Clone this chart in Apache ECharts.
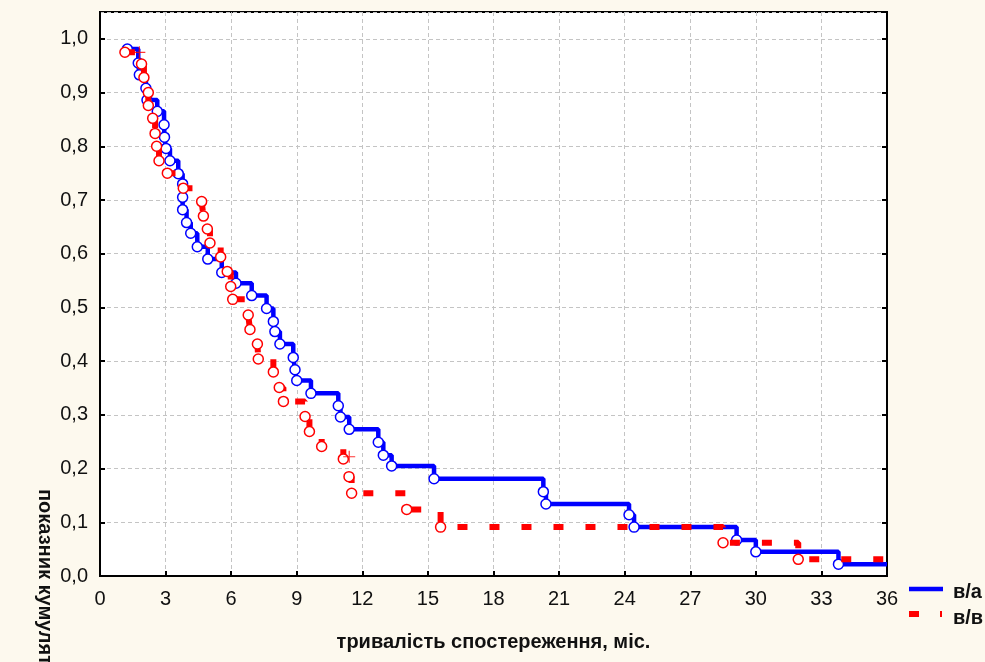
<!DOCTYPE html>
<html>
<head>
<meta charset="utf-8">
<script src="https://cdn.jsdelivr.net/npm/echarts@6/dist/echarts.min.js"></script>
<style>
html,body{margin:0;padding:0;background:#fdf9ee;}
#chart{width:985px;height:662px;}
</style>
</head>
<body>
<div id="chart"></div>
<script>
// Observation times (months) and cumulative proportion for group "в/а"
var blueTimes = [1.25,1.75,1.80,2.10,2.15,2.62,2.93,2.95,3.02,3.20,3.58,3.78,3.78,3.78,3.96,4.15,4.45,4.93,5.57,6.22,6.94,7.62,7.93,8.00,8.23,8.84,8.92,9.00,9.65,10.90,11.00,11.40,12.73,12.96,13.34,15.28,20.28,20.40,24.20,24.43,29.12,30.00,33.78,36];
var blueSurv  = [0.981,0.955,0.933,0.908,0.886,0.865,0.840,0.817,0.796,0.773,0.749,0.730,0.705,0.682,0.658,0.638,0.613,0.590,0.565,0.545,0.522,0.498,0.474,0.455,0.432,0.407,0.384,0.364,0.340,0.317,0.296,0.273,0.249,0.225,0.205,0.181,0.157,0.134,0.114,0.091,0.067,0.045,0.022,0.022];
// Group "в/в"
var redTimes = [1.14,1.90,2.01,2.21,2.21,2.41,2.52,2.59,2.70,3.08,3.81,4.65,4.73,4.91,5.03,5.52,5.82,5.98,6.07,6.78,6.86,7.20,7.24,7.93,8.20,8.39,9.38,9.58,10.14,11.13,11.39,11.51,14.03,15.58,28.50,31.94,36];
var redSurv  = [0.975,0.953,0.928,0.900,0.876,0.852,0.824,0.800,0.773,0.750,0.722,0.697,0.670,0.646,0.620,0.594,0.567,0.539,0.515,0.486,0.459,0.432,0.404,0.380,0.351,0.325,0.297,0.269,0.241,0.218,0.185,0.154,0.124,0.091,0.062,0.031,0.031];
// Censored observations ("+") for group "в/в"
var redCensTimes = [1.80,11.40];
var redCensSurv  = [0.975,0.222];

var xTicks = [0,3,6,9,12,15,18,21,24,27,30,33,36];
var yTicks = [0.0,0.1,0.2,0.3,0.4,0.5,0.6,0.7,0.8,0.9,1.0];

var seriesNames = ['в/а','в/в'];
var xTitle = 'тривалість спостереження, міс.';
var yTitle = 'показник кумулятивної виживаності';

function toData(xs, ys) {
  return xs.map(function (x, i) {
    var item = {value: [x, ys[i]]};
    if (i === xs.length - 1) item.symbol = 'none';
    return item;
  });
}

var chart = echarts.init(document.getElementById('chart'));
var fontFam = '"Liberation Sans", Arial, sans-serif';
var option = {
  backgroundColor: '#fdf9ee',
  animation: false,
  grid: {left: 100, right: 98, top: 12, bottom: 86, show: true, backgroundColor: '#ffffff', borderColor: '#000', borderWidth: 2},
  xAxis: [{
    type: 'value', min: xTicks[0], max: xTicks[xTicks.length - 1], interval: 3,
    name: xTitle, nameLocation: 'middle', nameGap: 56,
    nameTextStyle: {fontFamily: fontFam, fontSize: 20, fontWeight: 'bold', color: '#111'},
    axisLine: {lineStyle: {color: '#000', width: 2}},
    axisTick: {inside: true, length: 5, lineStyle: {color: '#000', width: 2}},
    axisLabel: {margin: 13, fontFamily: fontFam, fontSize: 20, color: '#111'},
    splitLine: {show: true, lineStyle: {color: '#c4c4c4', type: [4, 3], width: 1}}
  }],
  yAxis: [{
    type: 'value', min: 0, max: 1.05, interval: 0.1,
    axisLine: {lineStyle: {color: '#000', width: 2}},
    axisTick: {inside: true, length: 5, lineStyle: {color: '#000', width: 2}},
    axisLabel: {margin: 12, fontFamily: fontFam, fontSize: 20, color: '#111', showMaxLabel: false,
      formatter: function (v) {
        var r = Math.round(v * 10) / 10;
        if (Math.abs(r - v) > 1e-6 || yTicks.indexOf(r) < 0) return '';
        return r.toFixed(1).replace('.', ',');
      }},
    splitLine: {show: true, lineStyle: {color: '#c4c4c4', type: [4, 3], width: 1}}
  }, {
    type: 'value', min: 0, max: 1.05, interval: 0.1, position: 'right',
    axisLine: {show: true, lineStyle: {color: '#000', width: 2}},
    axisTick: {inside: true, length: 5, lineStyle: {color: '#000', width: 2}},
    axisLabel: {show: false}, splitLine: {show: false}
  }],
  series: [{
    name: seriesNames[0], type: 'line', step: 'end',
    data: toData(blueTimes, blueSurv),
    symbol: 'circle', symbolSize: 10,
    lineStyle: {color: '#0000ff', width: 4.5},
    itemStyle: {color: '#ffffff', borderColor: '#0000ff', borderWidth: 1.5},
    z: 3
  }, {
    name: seriesNames[1], type: 'line', step: 'end',
    data: toData(redTimes, redSurv),
    symbol: 'circle', symbolSize: 10,
    lineStyle: {color: '#ff0000', width: 6, type: [10, 22], cap: 'butt'},
    itemStyle: {color: '#ffffff', borderColor: '#ff0000', borderWidth: 1.5},
    z: 4
  }, {
    name: 'cens', type: 'scatter',
    data: redCensTimes.map(function (x, i) { return [x, redCensSurv[i]]; }),
    symbol: 'path://M0,5L10,5M5,0L5,10', symbolSize: 12,
    itemStyle: {color: 'none', borderColor: '#ff0000', borderWidth: 1.2},
    z: 5
  }],
  graphic: [
    {type: 'text', x: 45, y: 489, rotation: -Math.PI / 2,
     style: {text: yTitle, fontFamily: fontFam, fontSize: 20, fontWeight: 'bold', fill: '#111', textAlign: 'left', textVerticalAlign: 'middle'}},
    {type: 'line', shape: {x1: 909, y1: 589, x2: 943, y2: 589}, style: {stroke: '#0000ff', lineWidth: 4.5}},
    {type: 'text', x: 953, y: 592, style: {text: seriesNames[0], fontFamily: fontFam, fontSize: 20, fontWeight: 'bold', fill: '#111', textAlign: 'left', textVerticalAlign: 'middle'}},
    {type: 'rect', shape: {x: 909, y: 611, width: 10, height: 6}, style: {fill: '#ff0000'}},
    {type: 'rect', shape: {x: 940, y: 611, width: 2, height: 6}, style: {fill: '#ff0000'}},
    {type: 'text', x: 953, y: 618, style: {text: seriesNames[1], fontFamily: fontFam, fontSize: 20, fontWeight: 'bold', fill: '#111', textAlign: 'left', textVerticalAlign: 'middle'}}
  ]
};
chart.setOption(option);
</script>
</body>
</html>
